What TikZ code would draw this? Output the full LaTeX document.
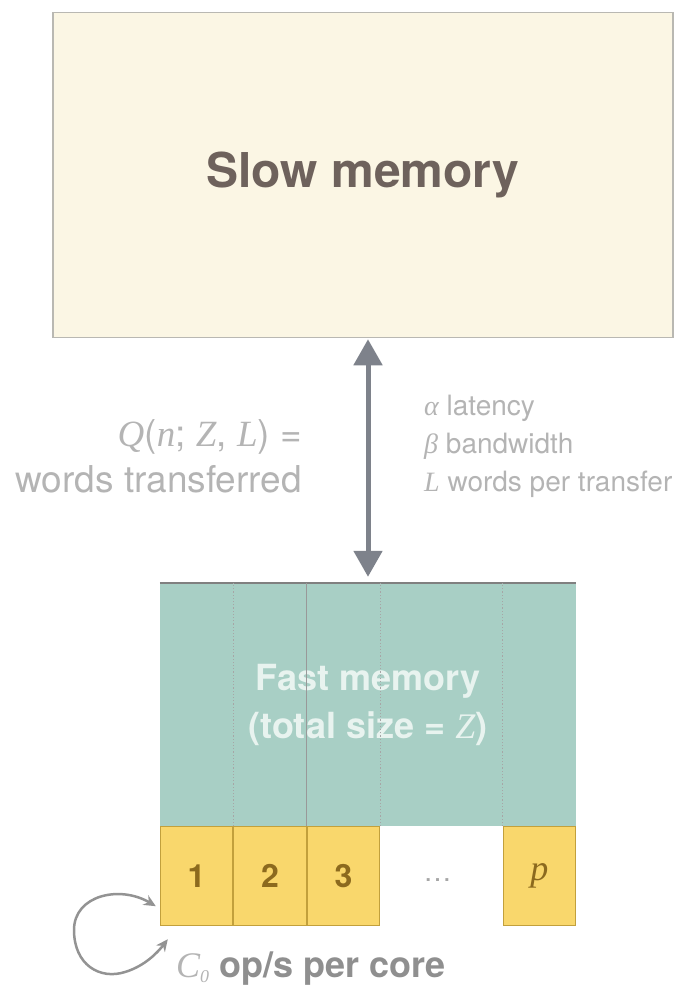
\documentclass[tikz,border=0pt]{standalone}
\usepackage{fontspec}
\setmainfont{TeX Gyre Heros}
\newfontfamily\symserif{Liberation Serif}
\newcommand{\varsym}[1]{{\symserif\itshape\mdseries #1}}
\usetikzlibrary{arrows.meta,positioning,calc}

\definecolor{slowfill}{HTML}{FBF6E4}
\definecolor{slowline}{HTML}{B9B8B2}
\definecolor{slowtext}{HTML}{6E625C}
\definecolor{fastfill}{HTML}{A8CFC5}
\definecolor{fasttext}{HTML}{E8F3EF}
\definecolor{corefill}{HTML}{F9D76C}
\definecolor{coreline}{HTML}{C2A03C}
\definecolor{numgold}{HTML}{8C6A1E}
\definecolor{linkgray}{HTML}{7E828B}
\definecolor{notegray}{HTML}{B4B4B4}
\definecolor{opsgray}{HTML}{8F8F8F}

\begin{document}
\begin{tikzpicture}[x=1pt,y=-1pt,
    mem/.style={inner sep=0pt,align=center},
    core/.style={draw=coreline,line width=1pt,fill=corefill,minimum width=72.5pt,
      minimum height=99pt,inner sep=0pt,text=numgold,
      font=\fontsize{32}{32}\selectfont\bfseries},
    divider/.style={dotted,line width=1.2pt,gray!70},
    link/.style={{Triangle[width=28pt,length=26pt]}-{Triangle[width=28pt,length=26pt]},
      line width=5pt,linkgray},
    note/.style={text=notegray,inner sep=0pt}]
  \useasboundingbox (0,0) rectangle (687,988);
  % Slow memory
  \node[mem,draw=slowline,line width=1.5pt,fill=slowfill,minimum width=620pt,
    minimum height=325pt,text=slowtext,font=\fontsize{48}{48}\selectfont\bfseries]
    (slow) at (363,175) {Slow memory};
  % Fast memory
  \node[mem,fill=fastfill,minimum width=416pt,minimum height=243pt,text=fasttext,
    font=\fontsize{36}{48}\selectfont\bfseries] (fast) at (368,704.5)
    {Fast memory\\(total size = \varsym{Z})};
  \draw[gray,line width=1.5pt] (fast.north west) -- (fast.north east);
  % Cores
  \node[core,anchor=north west] (core1) at (fast.south west) {1};
  \node[core,right=0pt of core1] (core2) {2};
  \node[core,right=0pt of core2] (core3) {3};
  \node[core,anchor=north east,font=\fontsize{36}{36}\selectfont] (corep)
    at (fast.south east) {\varsym{p}};
  \node[text=gray!70,font=\fontsize{28}{28}\selectfont] (dots)
    at ($(core3.east)!0.5!(corep.west)+(-4,4)$) {\dots};
  % Per-core columns in fast memory
  \foreach \c/\a in {core1/east,core3/east,corep/west}
    \draw[divider] (\c.north \a) -- (\c.north \a |- fast.north);
  \draw[gray!80,line width=0.8pt] (core2.north east) -- (core2.north east |- fast.north);
  % Transfer between memories
  \draw[link,shorten <=1pt,shorten >=6pt] (fast.north |- slow.south) -- (fast.north);
  \node[note,anchor=east,align=right,font=\fontsize{37}{46}\selectfont] (words)
    at (302,456) {\varsym{Q}(\varsym{n}; \varsym{Z}, \varsym{L}) =\\words transferred};
  \node[note,anchor=west,align=left,font=\fontsize{28}{38}\selectfont] (params)
    at (424,446) {\varsym{α} latency\\\varsym{β} bandwidth\\\varsym{L} words per transfer};
  % Compute rate per core
  \coordinate (loopin) at ($(core1.west)+(-4,30)$);
  \coordinate (loopout) at ($(core1.south west)+(8,13)$);
  \draw[{Stealth[length=12pt,width=11pt]}-{Stealth[length=12pt,width=11pt]},
    line width=2.5pt,gray!85] (loopin) .. controls (120,885) and (74,895) .. (74,930)
    .. controls (74,965) and (100,980) .. (125,972)
    .. controls (145,966) and (158,952) .. (loopout);
  \node[anchor=west,inner sep=0pt,text=opsgray,font=\fontsize{36}{36}\selectfont\bfseries]
    (ops) at (176,969)
    {\textcolor{notegray}{\varsym{C}\raisebox{-5pt}{\fontsize{18}{18}\selectfont\varsym{0}}} op/s per core};
\end{tikzpicture}
\end{document}
